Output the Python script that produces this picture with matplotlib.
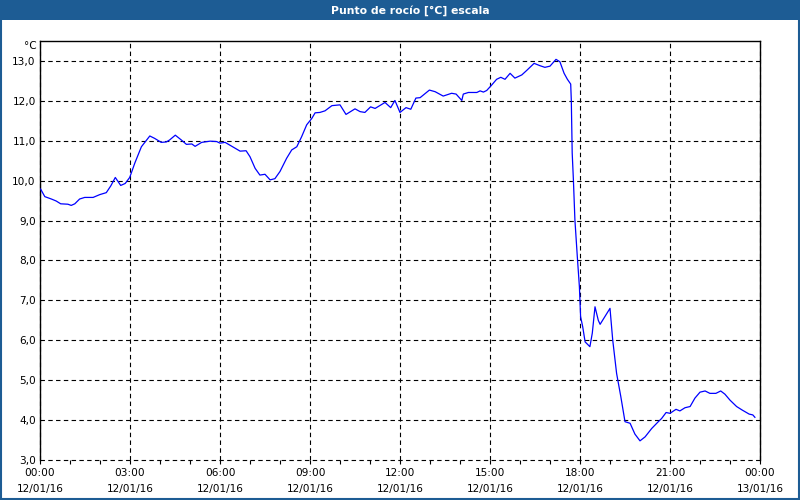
import matplotlib
matplotlib.use("Agg")
import matplotlib.pyplot as plt
from matplotlib.patches import Rectangle
from matplotlib.ticker import MultipleLocator

title = "Punto de rocío [°C] escala"
unit = "°C"

hours = [0.02, 0.16, 0.38, 0.54, 0.69, 0.93, 1.04, 1.16, 1.32, 1.49, 1.77, 1.99, 2.21, 2.36,
         2.51, 2.69, 2.84, 2.99, 3.16, 3.38, 3.66, 3.82, 4.04, 4.21, 4.32, 4.51, 4.71, 4.88,
         5.06, 5.17, 5.39, 5.67, 5.89, 6.00, 6.17, 6.44, 6.67, 6.87, 7.00, 7.17, 7.33, 7.50,
         7.67, 7.83, 8.00, 8.22, 8.39, 8.56, 8.72, 8.89, 9.06, 9.17, 9.33, 9.50, 9.73, 10.00,
         10.20, 10.50, 10.67, 10.83, 11.02, 11.17, 11.50, 11.69, 11.83, 12.00, 12.20, 12.36,
         12.53, 12.67, 12.98, 13.17, 13.44, 13.72, 13.87, 14.06, 14.11, 14.28, 14.56, 14.67,
         14.78, 14.89, 15.06, 15.22, 15.36, 15.50, 15.67, 15.83, 16.06, 16.22, 16.47, 16.67,
         16.83, 17.00, 17.20, 17.33, 17.47, 17.58, 17.69, 17.71, 17.74, 17.78, 17.83, 17.91,
         17.98, 18.02, 18.09, 18.17, 18.33, 18.41, 18.50, 18.61, 18.67, 19.00, 19.09, 19.22,
         19.36, 19.50, 19.67, 19.83, 20.00, 20.17, 20.39, 20.61, 20.72, 20.87, 21.00, 21.20,
         21.33, 21.50, 21.67, 21.83, 22.00, 22.17, 22.33, 22.53, 22.69, 22.83, 23.00, 23.22,
         23.41, 23.64, 23.76, 23.83]

dew_point = [9.79, 9.60, 9.54, 9.49, 9.42, 9.41, 9.38, 9.42, 9.54, 9.58, 9.58, 9.65, 9.70, 9.87,
             10.08, 9.88, 9.93, 10.08, 10.44, 10.85, 11.12, 11.06, 10.96, 10.97, 11.02, 11.14, 11.02, 10.91,
             10.92, 10.86, 10.96, 10.99, 10.98, 10.94, 10.96, 10.84, 10.74, 10.75, 10.60, 10.31, 10.14, 10.16,
             10.02, 10.05, 10.23, 10.56, 10.77, 10.85, 11.10, 11.40, 11.56, 11.70, 11.71, 11.75, 11.88, 11.90,
             11.66, 11.80, 11.73, 11.71, 11.85, 11.81, 11.96, 11.83, 12.01, 11.71, 11.83, 11.79,
             12.07, 12.08, 12.27, 12.23, 12.12, 12.19, 12.17, 12.01, 12.17, 12.21, 12.21, 12.25,
             12.22, 12.26, 12.40, 12.54, 12.59, 12.54, 12.69, 12.57, 12.65, 12.76, 12.94, 12.88,
             12.84, 12.87, 13.04, 12.98, 12.69, 12.54, 12.42, 12.02, 10.69, 10.02, 9.02, 8.10,
             7.34, 6.59, 6.34, 5.96, 5.84, 6.18, 6.84, 6.50, 6.40, 6.80, 6.01, 5.17,
             4.59, 3.96, 3.92, 3.65, 3.48, 3.58, 3.79, 3.96, 4.04, 4.19, 4.17, 4.27,
             4.23, 4.31, 4.34, 4.55, 4.70, 4.73, 4.67, 4.67, 4.73, 4.65, 4.50, 4.34,
             4.25, 4.15, 4.13, 4.07]

x_ticks = [0, 3, 6, 9, 12, 15, 18, 21, 24]
x_tick_labels = ["00:00\n12/01/16", "03:00\n12/01/16", "06:00\n12/01/16", "09:00\n12/01/16",
                 "12:00\n12/01/16", "15:00\n12/01/16", "18:00\n12/01/16", "21:00\n12/01/16",
                 "00:00\n13/01/16"]
y_ticks = [3, 4, 5, 6, 7, 8, 9, 10, 11, 12, 13]
y_tick_labels = ["3,0", "4,0", "5,0", "6,0", "7,0", "8,0", "9,0", "10,0", "11,0", "12,0", "13,0"]

plt.rcParams['font.family'] = ['DejaVu Sans']
fig = plt.figure(figsize=(8, 5), dpi=100, facecolor='white')
ax = fig.add_axes([40/800, 40/500, 720/800, 419/500])

bar_color = '#1d5c94'
fig.patches.append(Rectangle((0, 0.96), 1, 0.04, transform=fig.transFigure,
                             facecolor=bar_color, edgecolor='none', zorder=0))
fig.patches.append(Rectangle((0.001, 0.002), 0.998, 0.996, transform=fig.transFigure,
                             facecolor='none', edgecolor=bar_color, linewidth=1.5, zorder=5))
fig.text(0.513, 0.979, title, color='white', fontsize=7.8, fontweight='bold',
         ha='center', va='center')

ax.plot(hours, dew_point, color='#0000ff', linewidth=0.9, zorder=3)

ax.set_xlim(0, 24)
ax.set_ylim(3, 13.5)
ax.set_xticks(x_ticks)
ax.set_xticklabels(x_tick_labels, fontsize=7.6, linespacing=1.75)
ax.xaxis.set_minor_locator(MultipleLocator(1))
ax.set_yticks(y_ticks)
ax.set_yticklabels(y_tick_labels, fontsize=7.6)
ax.tick_params(axis='x', which='both', direction='out', length=3, width=0.8, pad=3, color='black')
ax.tick_params(axis='y', length=0, pad=3)
ax.grid(True, which='major', color='black', linestyle=(0, (4, 3)), linewidth=0.8)
for gl in ax.get_xgridlines() + ax.get_ygridlines():
    gl.set_clip_on(False)
ax.spines['bottom'].set_visible(False)
for s in ['left', 'top', 'right']:
    ax.spines[s].set_linewidth(1.0)
    ax.spines[s].set_color('black')

fig.text(37/800, 1 - 46/500, unit, fontsize=7.6, ha='right', va='center')

fig.savefig("out.png", dpi=100, facecolor='white')
